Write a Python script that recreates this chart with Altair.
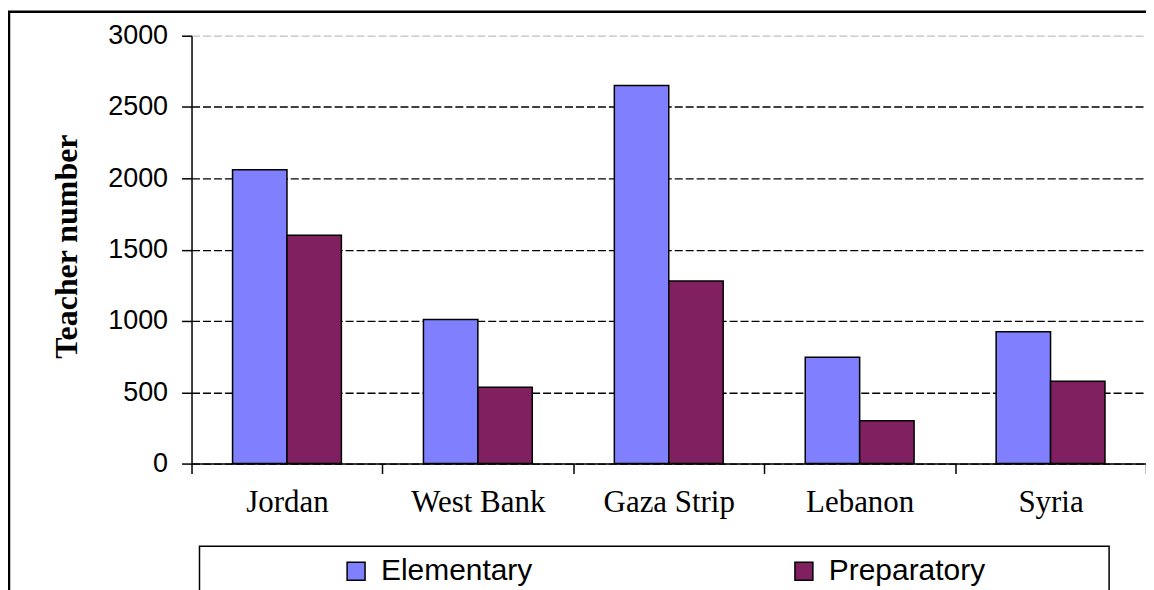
import altair as alt
import pandas as pd

categories = ["Jordan", "West Bank", "Gaza Strip", "Lebanon", "Syria"]
levels = ["Elementary", "Preparatory"]
elementary = [2060, 1010, 2650, 745, 925]
preparatory = [1600, 535, 1280, 300, 578]
y_ticks = [0, 500, 1000, 1500, 2000, 2500, 3000]
colors = ["#8080FF", "#802060"]

rows = []
for c, e, p in zip(categories, elementary, preparatory):
    rows.append({"country": c, "level": levels[0], "teachers": e})
    rows.append({"country": c, "level": levels[1], "teachers": p})
df = pd.DataFrame(rows)

bars = alt.Chart(df).mark_bar(stroke="black", strokeWidth=1.5).encode(
    x=alt.X(
        "country:N",
        sort=categories,
        scale=alt.Scale(paddingInner=0, paddingOuter=0),
        axis=alt.Axis(
            title=None,
            labelAngle=0,
            labelFont="Liberation Serif",
            labelFontSize=31,
            labelColor="black",
            labelPadding=14,
            tickBand="extent",
            tickSize=10,
            tickColor="black",
            tickWidth=1.5,
            domainColor="black",
            domainWidth=1.5,
            grid=False,
        ),
    ),
    xOffset=alt.XOffset("level:N", sort=levels,
                        scale=alt.Scale(paddingInner=0, paddingOuter=0.754)),
    y=alt.Y(
        "teachers:Q",
        scale=alt.Scale(domain=[0, 3000], nice=False),
        axis=alt.Axis(
            title="Teacher number",
            titleFont="Liberation Serif",
            titleFontWeight="bold",
            titleFontSize=32,
            titleColor="black",
            titleAngle=270,
            titleAlign="center",
            titleBaseline="middle",
            titleX=-125,
            titleY=211,
            values=y_ticks,
            format="d",
            labelFont="Liberation Sans",
            labelFontSize=27,
            labelColor="black",
            labelPadding=14,
            tickSize=10,
            tickColor="black",
            tickWidth=1.5,
            domainColor="black",
            domainWidth=1.5,
            grid=True,
            gridColor={"condition": {"test": "datum.value === 3000", "value": "#c0c0c0"},
                       "value": "black"},
            gridDash=[8, 3],
            gridWidth=1.3,
        ),
    ),
    color=alt.Color(
        "level:N",
        sort=levels,
        scale=alt.Scale(domain=levels, range=colors),
        legend=alt.Legend(
            title=None,
            orient="none",
            direction="horizontal",
            legendX=150,
            legendY=522,
            padding=0,
            symbolType="square",
            symbolSize=324,
            symbolStrokeColor="black",
            symbolStrokeWidth=1.5,
            symbolOpacity=1,
            labelFont="Liberation Sans",
            labelFontSize=30,
            labelColor="black",
            labelOffset=10,
            columnPadding=257,
        ),
    ),
)

frame_df = pd.DataFrame({"k": [0]})
frame_top = alt.Chart(frame_df).mark_rule(color="black", strokeWidth=2.5).encode(
    x=alt.value(-184), x2=alt.value(1300), y=alt.value(-24)
)
frame_left = alt.Chart(frame_df).mark_rule(color="black", strokeWidth=2.5).encode(
    x=alt.value(-183), y=alt.value(-24), y2=alt.value(800)
)
legend_box = alt.Chart(frame_df).mark_rect(filled=False, stroke="black", strokeWidth=1.5).encode(
    x=alt.value(8), x2=alt.value(920), y=alt.value(512), y2=alt.value(800)
)

chart = alt.layer(frame_top, frame_left, legend_box, bars).properties(
    width=957,
    height=429,
    autosize=alt.AutoSizeParams(type="none"),
    padding={"left": 184, "top": 27, "right": 0, "bottom": 130},
    background="white",
).configure_view(stroke="transparent")

chart.save("out.html", embed_options={"renderer": "svg", "actions": False})
